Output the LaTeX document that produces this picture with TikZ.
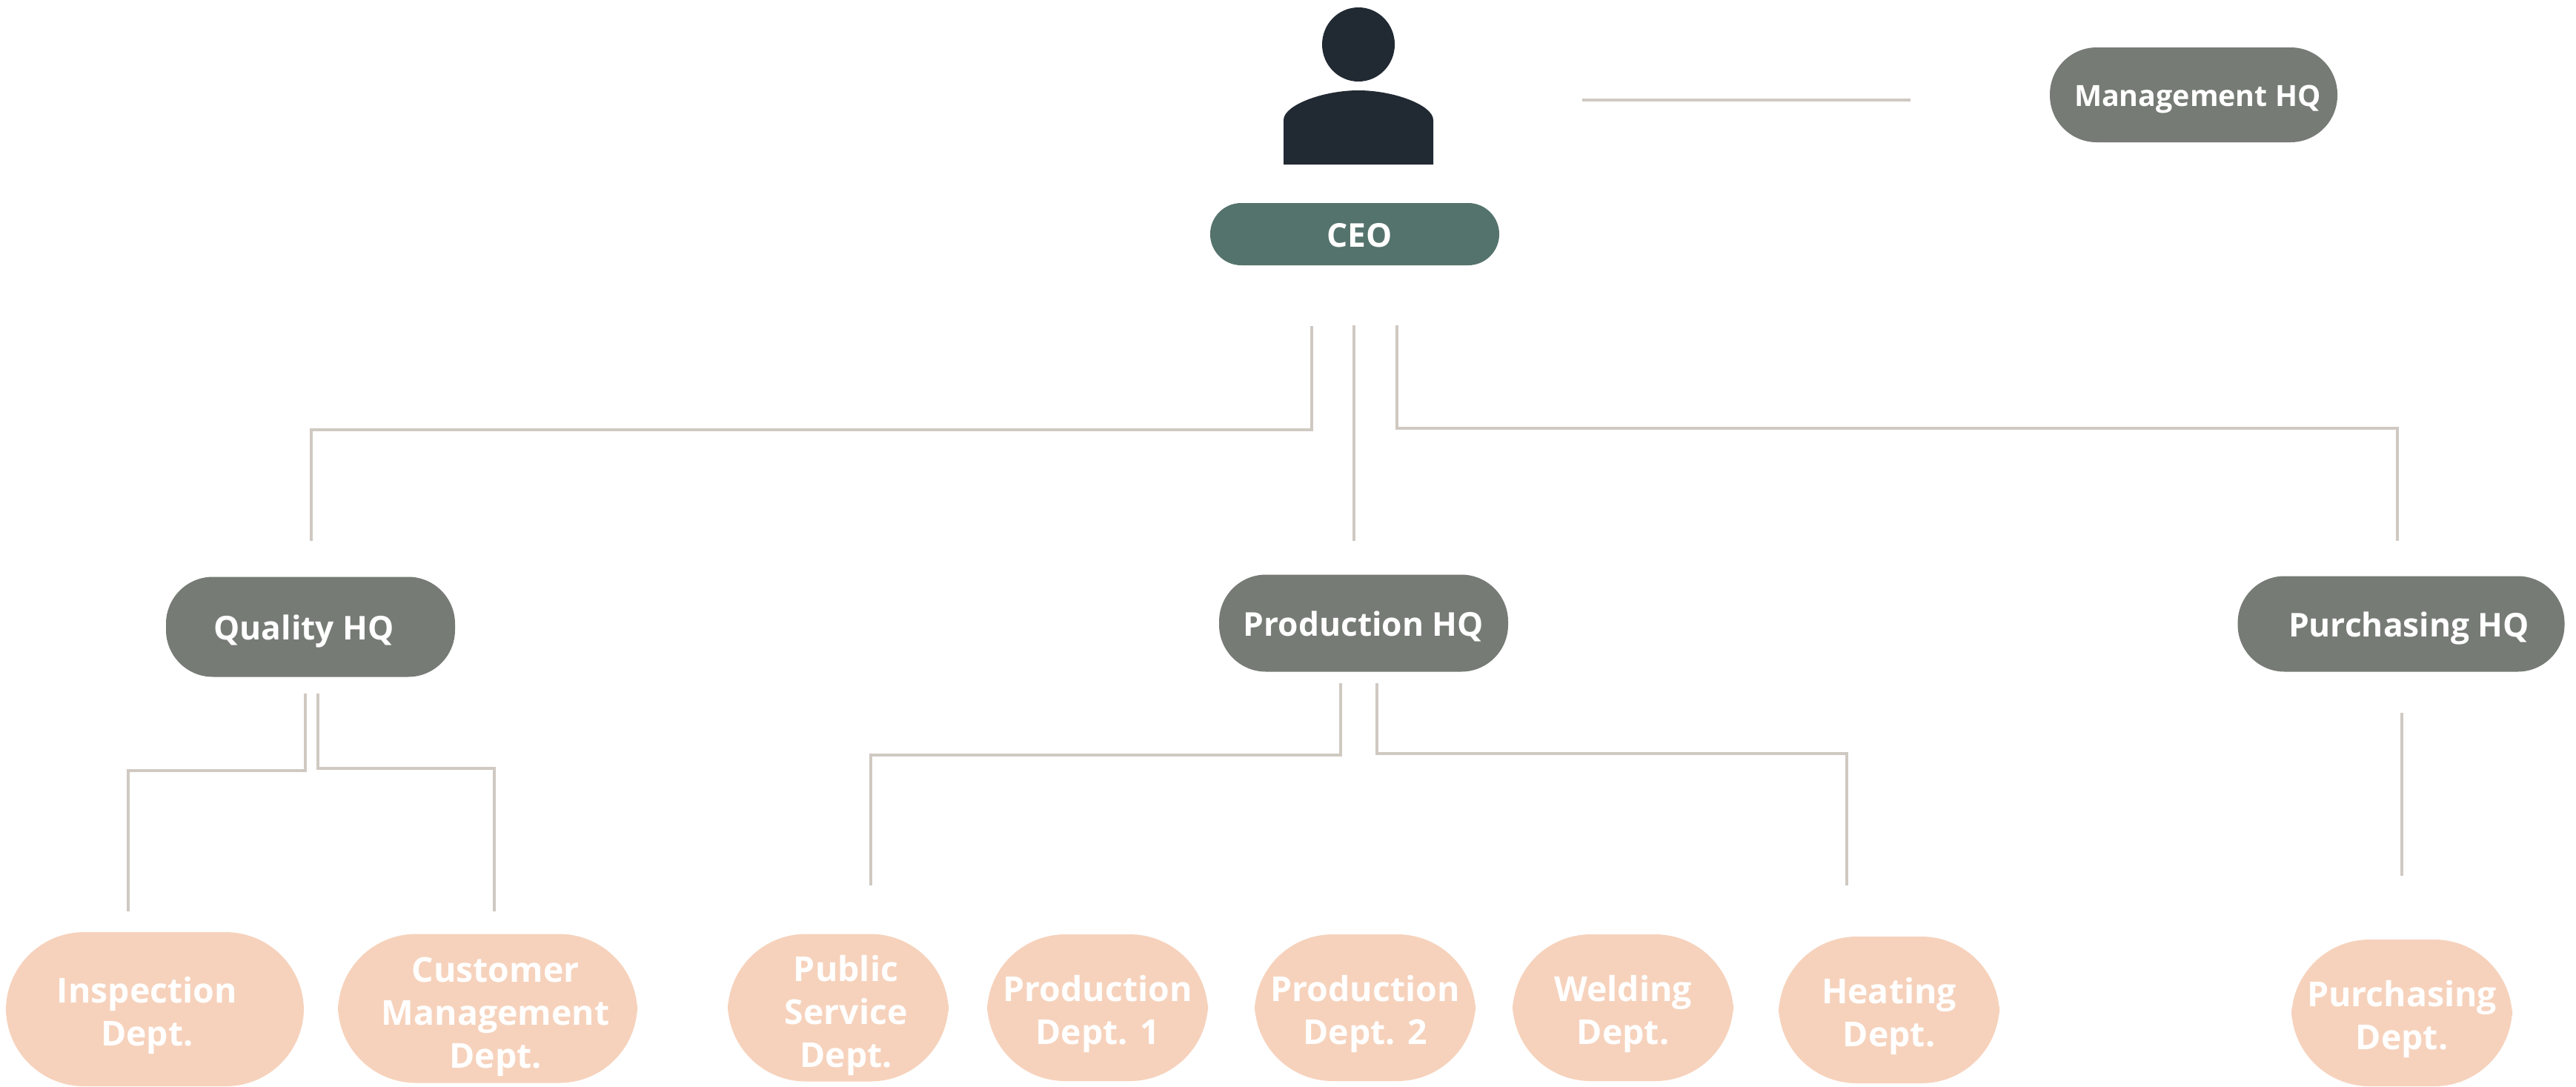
\documentclass[tikz,border=0pt]{standalone}
\usepackage{fontspec}
\setmainfont{Open Sans}
\definecolor{ceocol}{HTML}{54736C}
\definecolor{hqcol}{HTML}{767B75}
\definecolor{deptcol}{HTML}{F6D2BC}
\definecolor{personcol}{HTML}{212933}
\definecolor{linecol}{HTML}{CFC9C2}
\tikzset{
  hqbox/.style={fill=hqcol,text=white,rounded corners=18pt,font=\bfseries\fontsize{12.6}{16}\selectfont,inner sep=0pt,text height=13pt,text depth=3pt},
  deptbox/.style={fill=deptcol,text=white,rounded corners=30pt,align=center,font=\bfseries\fontsize{13.2}{16.5}\selectfont,inner sep=0pt},
  link/.style={draw=linecol,line width=0.95pt}
}
\begin{document}
\begin{tikzpicture}[y=-1cm]
\useasboundingbox (0,0) rectangle (34.76,14.66);

% person
\fill[personcol] (18.33,0.60) ellipse (0.49 and 0.50);
\fill[personcol] (17.32,2.22) -- (17.32,1.62) .. controls (17.32,1.42) and (17.85,1.22) .. (18.33,1.22)
  .. controls (18.81,1.22) and (19.34,1.42) .. (19.34,1.62) -- (19.34,2.22) -- cycle;

% top nodes
\node[hqbox,fill=ceocol,minimum width=3.90cm,minimum height=0.84cm,rounded corners=11.9pt] (ceo) at (18.28,3.16) {\hspace*{3.5pt}CEO};
\node[hqbox,minimum width=3.88cm,minimum height=1.28cm,text height=12pt,font=\bfseries\fontsize{11.2}{14}\selectfont] (mgmt) at (29.60,1.28) {\hspace*{3pt}Management HQ};

% headquarters
\node[hqbox,minimum width=3.90cm,minimum height=1.35cm] (quality) at (4.19,8.46) {\hspace*{-5pt}Quality HQ};
\node[hqbox,minimum width=3.90cm,minimum height=1.31cm] (production) at (18.40,8.41) {Production HQ};
\node[hqbox,minimum width=4.41cm,minimum height=1.29cm] (purchasing) at (32.40,8.42) {\hspace*{6pt}Purchasing HQ};

% departments
\node[deptbox,minimum width=4.02cm,minimum height=2.08cm] (inspection) at (2.09,13.62) {\rule{0pt}{15pt}\hspace*{-6pt}Inspection\\\hspace*{-6pt}Dept.};
\node[deptbox,minimum width=4.04cm,minimum height=2.01cm] (customer) at (6.58,13.61) {\rule{0pt}{16pt}\hspace*{6pt}Customer\\\hspace*{6pt}Management\\\hspace*{6pt}Dept.};
\node[deptbox,minimum width=2.98cm,minimum height=1.99cm] (public) at (11.31,13.60) {\rule{0pt}{16pt}\hspace*{6pt}Public\\\hspace*{6pt}Service\\\hspace*{6pt}Dept.};
\node[deptbox,minimum width=2.98cm,minimum height=1.98cm] (prodone) at (14.81,13.60) {\rule{0pt}{15pt}Production\\Dept. 1};
\node[deptbox,minimum width=2.98cm,minimum height=1.98cm] (prodtwo) at (18.42,13.60) {\rule{0pt}{15pt}Production\\Dept. 2};
\node[deptbox,minimum width=2.98cm,minimum height=1.98cm] (welding) at (21.90,13.60) {\rule{0pt}{15pt}Welding\\Dept.};
\node[deptbox,minimum width=2.98cm,minimum height=1.98cm] (heating) at (25.49,13.63) {\rule{0pt}{15pt}Heating\\Dept.};
\node[deptbox,minimum width=2.98cm,minimum height=1.98cm] (purchdept) at (32.41,13.67) {\rule{0pt}{15pt}Purchasing\\Dept.};

% free line ends, the lines stop short of the boxes
\coordinate (mgmtA) at (21.35,1.35);
\coordinate (mgmtB) at (25.78,1.35);
\coordinate (ceoL) at (17.70,4.40);
\coordinate (ceoC) at (18.27,4.39);
\coordinate (ceoR) at (18.85,4.39);
\coordinate (qualityT) at (4.20,7.30);
\coordinate (prodT) at (18.27,7.30);
\coordinate (purchT) at (32.35,7.30);
\coordinate (qualityL) at (4.12,9.36);
\coordinate (qualityR) at (4.29,9.36);
\coordinate (inspT) at (1.73,12.30);
\coordinate (custT) at (6.67,12.30);
\coordinate (prodL) at (18.09,9.22);
\coordinate (prodR) at (18.58,9.22);
\coordinate (publicT) at (11.75,11.95);
\coordinate (heatT) at (24.92,11.95);
\coordinate (purchB) at (32.41,9.62);
\coordinate (purchE) at (32.41,11.82);

\draw[link] (mgmtA) -- (mgmtB);
\draw[link] (ceoL) |- (4.20,5.80) -- (qualityT);
\draw[link] (ceoC) -- (prodT);
\draw[link] (ceoR) |- (32.35,5.78) -- (purchT);
\draw[link] (qualityL) |- (1.73,10.40) -- (inspT);
\draw[link] (qualityR) |- (6.67,10.37) -- (custT);
\draw[link] (prodL) |- (11.75,10.19) -- (publicT);
\draw[link] (prodR) |- (24.92,10.17) -- (heatT);
\draw[link] (purchB) -- (purchE);

\end{tikzpicture}
\end{document}
